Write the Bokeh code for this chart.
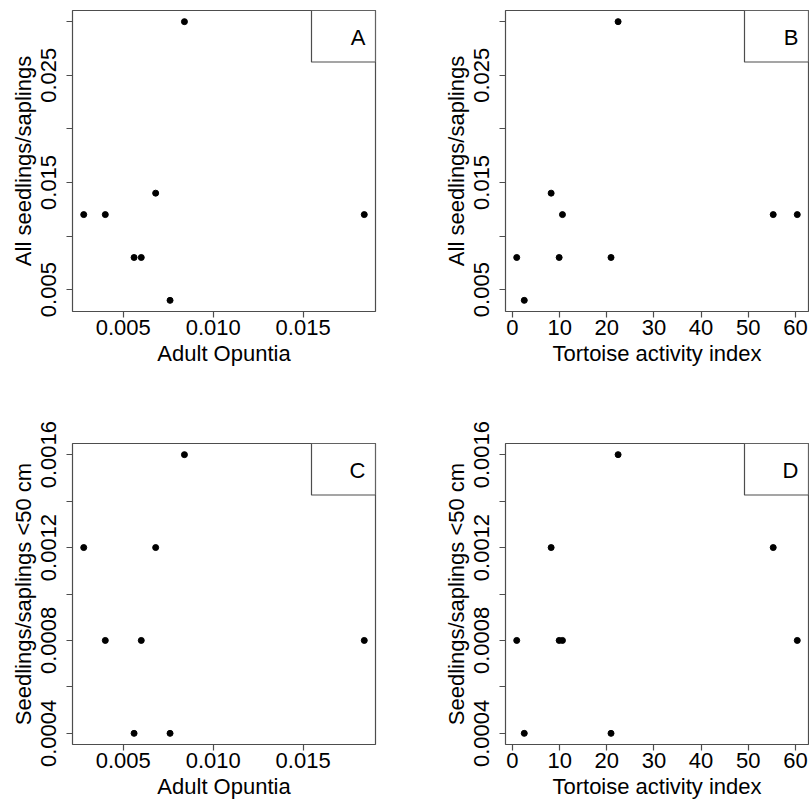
from bokeh.plotting import figure
from bokeh.layouts import column, row
from bokeh.models import Range1d, FixedTicker, BoxAnnotation, Label
from bokeh.embed import file_html
from bokeh.resources import INLINE

# ---- data ----
opuntia = [0.0028, 0.0040, 0.0056, 0.0060, 0.0068, 0.0076, 0.0084, 0.0184]
all_vs_opuntia = [0.012, 0.012, 0.008, 0.008, 0.014, 0.004, 0.030, 0.012]
small_vs_opuntia = [0.0012, 0.0008, 0.0004, 0.0008, 0.0012, 0.0004, 0.0016, 0.0008]

tortoise = [0.9, 2.5, 8.2, 9.9, 10.6, 20.9, 22.4, 55.3, 60.4]
all_vs_tortoise = [0.008, 0.004, 0.014, 0.008, 0.012, 0.008, 0.030, 0.012, 0.012]
small_vs_tortoise = [0.0008, 0.0004, 0.0012, 0.0008, 0.0008, 0.0004, 0.0016, 0.0012, 0.0008]

x_ticks_opuntia = [0.005, 0.010, 0.015]
x_labels_opuntia = ["0.005", "0.010", "0.015"]
x_ticks_tortoise = [0, 10, 20, 30, 40, 50, 60]
x_labels_tortoise = ["0", "10", "20", "30", "40", "50", "60"]
y_ticks_all = [0.005, 0.010, 0.015, 0.020, 0.025, 0.030]
y_labels_all = ["0.005", "", "0.015", "", "0.025", ""]
y_ticks_small = [0.0004, 0.0006, 0.0008, 0.0010, 0.0012, 0.0014, 0.0016]
y_labels_small = ["0.0004", "", "0.0008", "", "0.0012", "", "0.0016"]

x_title_opuntia = "Adult Opuntia"
x_title_tortoise = "Tortoise activity index"
y_title_all = "All seedlings/saplings"
y_title_small = "Seedlings/saplings <50 cm"
panel_letters = ["A", "B", "C", "D"]

FONT = "Liberation Sans"
FS = "22px"
FRAME_W = 303
FRAME_H = 301
GRAY = "#4d4d4d"


def r_range(vals):
    lo, hi = min(vals), max(vals)
    pad = 0.04 * (hi - lo)
    return lo - pad, hi + pad


def panel(xs, ys, xticks, xlabels, yticks, ylabels, xtitle, ytitle, letter,
          bl, br, bt, bb):
    x0, x1 = r_range(xs)
    y0, y1 = r_range(ys)
    p = figure(frame_width=FRAME_W, frame_height=FRAME_H,
               x_range=Range1d(x0, x1), y_range=Range1d(y0, y1),
               output_backend="svg", toolbar_location=None,
               min_border_left=bl, min_border_right=br,
               min_border_top=bt, min_border_bottom=bb)
    p.xgrid.visible = False
    p.ygrid.visible = False
    p.outline_line_color = GRAY
    p.outline_line_width = 1.2
    p.background_fill_color = "white"
    p.border_fill_color = "white"

    p.scatter(xs, ys, size=6, color="black")

    p.xaxis.ticker = FixedTicker(ticks=xticks)
    p.xaxis.major_label_overrides = dict(zip(xticks, xlabels))
    p.yaxis.ticker = FixedTicker(ticks=yticks)
    p.yaxis.major_label_overrides = dict(zip(yticks, ylabels))
    p.yaxis.major_label_orientation = "vertical"
    p.xaxis.axis_label = xtitle
    p.yaxis.axis_label = ytitle
    for ax in (p.xaxis[0], p.yaxis[0]):
        ax.axis_line_color = None
        ax.major_tick_line_color = GRAY
        ax.major_tick_line_width = 1.2
        ax.major_tick_out = 6
        ax.major_tick_in = 0
        ax.minor_tick_line_color = None
        ax.major_label_text_font = FONT
        ax.major_label_text_font_size = FS
        ax.major_label_text_color = "black"
        ax.axis_label_text_font = FONT
        ax.axis_label_text_font_size = FS
        ax.axis_label_text_font_style = "normal"
        ax.axis_label_text_color = "black"
    p.xaxis.major_label_standoff = 2
    p.xaxis.axis_label_standoff = 3
    p.yaxis.major_label_standoff = 10
    p.yaxis.axis_label_standoff = 3

    # legend-like box in the top-right corner (R legend("topright"))
    bw = 64 / FRAME_W * (x1 - x0)
    bh = 51.5 / FRAME_H * (y1 - y0)
    p.add_layout(BoxAnnotation(left=x1 - bw, right=x1, bottom=y1 - bh, top=y1,
                               fill_color="white", fill_alpha=1.0,
                               line_color=GRAY, line_alpha=1.0, line_width=1.2,
                               level="overlay"))
    p.add_layout(Label(x=x1, y=y1, x_offset=-10, y_offset=-27, text=letter,
                       text_align="right", text_baseline="middle",
                       text_font=FONT, text_font_size=FS, text_color="black",
                       level="overlay"))
    return p


pa = panel(opuntia, all_vs_opuntia, x_ticks_opuntia, x_labels_opuntia,
           y_ticks_all, y_labels_all, x_title_opuntia, y_title_all, panel_letters[0],
           72, 25, 10, 105)
pb = panel(tortoise, all_vs_tortoise, x_ticks_tortoise, x_labels_tortoise,
           y_ticks_all, y_labels_all, x_title_tortoise, y_title_all, panel_letters[1],
           105, 1, 10, 105)
pc = panel(opuntia, small_vs_opuntia, x_ticks_opuntia, x_labels_opuntia,
           y_ticks_small, y_labels_small, x_title_opuntia, y_title_small, panel_letters[2],
           72, 25, 27, 57)
pd = panel(tortoise, small_vs_tortoise, x_ticks_tortoise, x_labels_tortoise,
           y_ticks_small, y_labels_small, x_title_tortoise, y_title_small, panel_letters[3],
           105, 1, 27, 57)

layout = column(row(pa, pb), row(pc, pd))
open("out.html", "w").write(file_html(layout, INLINE))
